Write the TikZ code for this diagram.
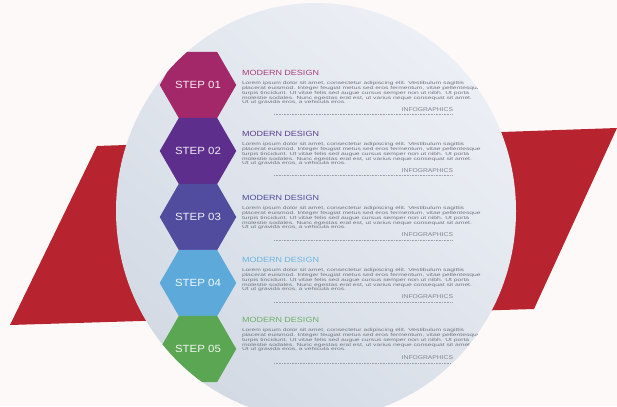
\documentclass[tikz,border=0pt]{standalone}
\usepackage{fontspec}
\usepackage{graphicx}
\newfontfamily\igstep[FakeStretch=1.1]{Liberation Sans}
\newfontfamily\igwide[FakeStretch=1.2]{Liberation Sans}
\newfontfamily\igbody[FakeStretch=1.53]{Liberation Sans}
\usetikzlibrary{positioning,shapes.geometric}

\definecolor{igbg}{HTML}{FDF9F8}
\definecolor{igred}{HTML}{B7232F}
\definecolor{igcircdark}{HTML}{D3DAE4}
\definecolor{igcirclight}{HTML}{ECEFF5}
\definecolor{hexA}{HTML}{A3286A}
\definecolor{hexB}{HTML}{5D2E8C}
\definecolor{hexC}{HTML}{524C9E}
\definecolor{hexD}{HTML}{5DAADA}
\definecolor{hexE}{HTML}{5BA653}
\definecolor{headA}{HTML}{A8407A}
\definecolor{headB}{HTML}{5C3F8E}
\definecolor{headC}{HTML}{4E4C9A}
\definecolor{headD}{HTML}{6CB4DF}
\definecolor{headE}{HTML}{6DAF69}
\definecolor{igtext}{HTML}{6F747D}
\definecolor{iginfo}{HTML}{80858E}
\definecolor{igdots}{HTML}{9A9EA6}

\newcommand\igLorem{Lorem ipsum dolor sit amet, consectetur adipiscing elit. Vestibulum sagittis\\
placerat euismod. Integer feugiat metus sed eros fermentum, vitae pellentesque\\
turpis tincidunt. Ut vitae felis sed augue cursus semper non ut nibh. Ut porta\\
molestie sodales. Nunc egestas erat est, ut varius neque consequat sit amet.\\
Ut ut gravida eros, a vehicula eros.}

\tikzset{
	ig_base/.style={inner sep=0pt, outer sep=0pt},
	ig_hex/.style={ig_base, regular polygon, regular polygon sides=6, minimum size=76.5pt, on grid, font=\igstep\fontsize{10.4}{12}\selectfont, text=white, text opacity=0.92, fill=#1},
	ig_head/.style={ig_base, anchor=west, font=\igwide\fontsize{7.5}{8}\selectfont, text=#1},
	ig_body/.style={ig_base, align=left, font=\igbody\fontsize{4.4}{4.9}\selectfont, text=igtext},
	ig_info/.style={ig_base, anchor=south east, font=\igwide\fontsize{5.6}{6}\selectfont, text=iginfo},
	ig_dots/.style={draw=igdots, line width=0.6pt, dash pattern=on 0.8pt off 0.8pt}
}

\begin{document}
\begin{tikzpicture}[x=1pt, y=-1pt]
		\fill [igbg] (0,0) rectangle (617,406);
		\useasboundingbox (0,0) rectangle (617,406);
		\fill [igred] (97,146) -- (617,128) -- (534,309) -- (10,325) -- cycle;
		\shade [top color=igcirclight, bottom color=igcircdark, shading angle=-40] (316,211) ellipse [x radius=200, y radius=208];

		\begin{scope}
		\clip (316,211) ellipse [x radius=200, y radius=208];
		\node [ig_hex=hexA] (step1) at (198,85) {STEP 01};
		\node [ig_hex=hexB, below = 66pt of step1] (step2) {STEP 02};
		\node [ig_hex=hexC, below = 66pt of step2] (step3) {STEP 03};
		\node [ig_hex=hexD, below = 66pt of step3] (step4) {STEP 04};
		\node [ig_hex=hexE, below = 66pt of step4] (step5) {STEP 05};

		\node [ig_head=headA] (head1) at (242,73) {MODERN DESIGN};
		\node [ig_head=headB] (head2) at (242,134) {MODERN DESIGN};
		\node [ig_head=headC] (head3) at (242,198) {MODERN DESIGN};
		\node [ig_head=headD] (head4) at (242,260) {MODERN DESIGN};
		\node [ig_head=headE] (head5) at (242,320) {MODERN DESIGN};

		\node [ig_body, below = 5.5pt of head1.south west, anchor=north west] (body1) {\igLorem};
		\node [ig_body, below = 5.5pt of head2.south west, anchor=north west] (body2) {\igLorem};
		\node [ig_body, below = 5.5pt of head3.south west, anchor=north west] (body3) {\igLorem};
		\node [ig_body, below = 5.5pt of head4.south west, anchor=north west] (body4) {\igLorem};
		\node [ig_body, below = 5.5pt of head5.south west, anchor=north west] (body5) {\igLorem};

		\node [ig_info] (info1) at (453,112) {INFOGRAPHICS};
		\node [ig_info] (info2) at (453,173) {INFOGRAPHICS};
		\node [ig_info] (info3) at (453,237) {INFOGRAPHICS};
		\node [ig_info] (info4) at (453,299) {INFOGRAPHICS};
		\node [ig_info] (info5) at (453,360) {INFOGRAPHICS};

		\coordinate (dots1) at (274,114);
		\coordinate (dots2) at (274,175);
		\coordinate (dots3) at (274,240);
		\coordinate (dots4) at (274,302);
		\coordinate (dots5) at (274,363);
		\draw [ig_dots] (dots1) -- (dots1 -| info1.east);
		\draw [ig_dots] (dots2) -- (dots2 -| info2.east);
		\draw [ig_dots] (dots3) -- (dots3 -| info3.east);
		\draw [ig_dots] (dots4) -- (dots4 -| info4.east);
		\draw [ig_dots] (dots5) -- (dots5 -| info5.east);
		\end{scope}
	\end{tikzpicture}
\end{document}
